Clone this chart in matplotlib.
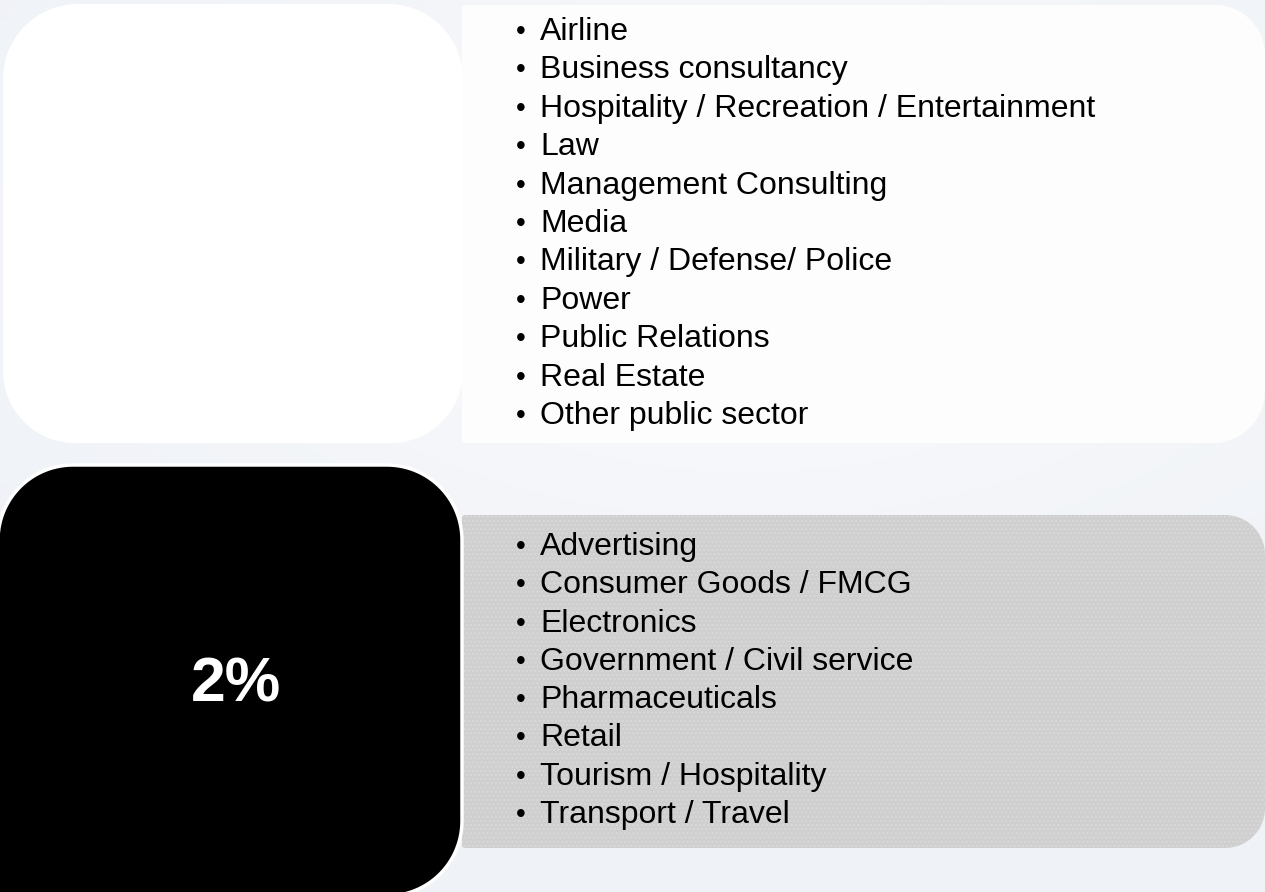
import numpy as np
import matplotlib.pyplot as plt
from matplotlib.patches import Polygon

# list of sectors in each band
top_items = [
    "Airline",
    "Business consultancy",
    "Hospitality / Recreation / Entertainment",
    "Law",
    "Management Consulting",
    "Media",
    "Military / Defense/ Police",
    "Power",
    "Public Relations",
    "Real Estate",
    "Other public sector",
]
top_value = ""
bottom_items = [
    "Advertising",
    "Consumer Goods / FMCG",
    "Electronics",
    "Government / Civil service",
    "Pharmaceuticals",
    "Retail",
    "Tourism / Hospitality",
    "Transport / Travel",
]
bottom_value = "2%"

W, H = 1265, 892


def rounded_box(x0, y0, x1, y1, radii, n=30):
    """
    polygon for a box with its own radius on each corner
    radii - (top-left, top-right, bottom-right, bottom-left), y axis points down
    """
    tl, tr, br, bl = radii
    pts = []
    corners = [
        (x0 + tl, y0 + tl, tl, np.pi, 1.5 * np.pi),
        (x1 - tr, y0 + tr, tr, 1.5 * np.pi, 2 * np.pi),
        (x1 - br, y1 - br, br, 0, 0.5 * np.pi),
        (x0 + bl, y1 - bl, bl, 0.5 * np.pi, np.pi),
    ]
    for cx, cy, r, a0, a1 in corners:
        t = np.linspace(a0, a1, n)
        pts += list(zip(cx + r * np.cos(t), cy + r * np.sin(t)))
    return np.array(pts)


fig = plt.figure(figsize=(W / 100, H / 100), dpi=100)
ax = fig.add_axes([0, 0, 1, 1])
ax.set_xlim(0, W)
ax.set_ylim(H, 0)
ax.axis("off")
fig.patch.set_facecolor("#eff2f7")

# soft lighter glow in the background
yy, xx = np.mgrid[0:H:4, 0:W:4]
glow = np.exp(-(((xx - 750) / 600) ** 2 + ((yy - 250) / 320) ** 2))
base = np.array([0xEF, 0xF2, 0xF7]) / 255
light = np.array([0xF9, 0xFA, 0xFC]) / 255
bg = base + (light - base) * glow[..., None]
ax.imshow(bg, extent=(0, W, H, 0), zorder=0, aspect="auto")

# top band
ax.add_patch(Polygon(rounded_box(462, 5, W, 443, (3, 50, 52, 3)),
                     closed=True, facecolor="#fdfdfd", edgecolor="none", zorder=1))
ax.add_patch(Polygon(rounded_box(3, 4, 463, 443, (75, 75, 72, 72)),
                     closed=True, facecolor="white", edgecolor="none", zorder=2))

# bottom band
ax.add_patch(Polygon(rounded_box(462, 515, W, 848, (3, 40, 40, 3)),
                     closed=True, facecolor="#cfcfcf", edgecolor="#d9d9d9",
                     hatch="....", linewidth=0, zorder=1))
ax.add_patch(Polygon(rounded_box(-2, 465, 462, 896, (75, 75, 75, 3)),
                     closed=True, facecolor="black", edgecolor="white",
                     linewidth=2.5, zorder=2))

font = "Liberation Sans"


def draw_list(items, y0, step):
    for i, item in enumerate(items):
        y = y0 + i * step
        ax.text(521, y - 1, "\u2022", fontsize=20, family=font, ha="center",
                va="baseline", zorder=3)
        ax.text(540, y, item, fontsize=23, family=font, va="baseline", zorder=3)


draw_list(top_items, 40, 38.4)
draw_list(bottom_items, 555, 38.3)

ax.text(236, 702, bottom_value, fontsize=45, family=font, color="white",
        ha="center", va="baseline", fontweight="bold", zorder=3)
ax.text(233, 260, top_value, fontsize=45, family=font, color="black",
        ha="center", va="baseline", fontweight="bold", zorder=3)

fig.savefig("out.png", dpi=100, facecolor=fig.get_facecolor())
